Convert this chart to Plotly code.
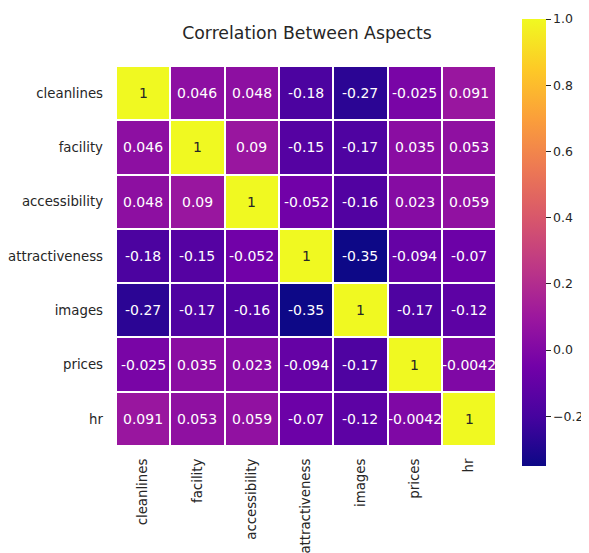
import plotly.graph_objects as go

labels = ["cleanlines", "facility", "accessibility", "attractiveness", "images", "prices", "hr"]
corr = [
    [1, 0.046, 0.048, -0.18, -0.27, -0.025, 0.091],
    [0.046, 1, 0.09, -0.15, -0.17, 0.035, 0.053],
    [0.048, 0.09, 1, -0.052, -0.16, 0.023, 0.059],
    [-0.18, -0.15, -0.052, 1, -0.35, -0.094, -0.07],
    [-0.27, -0.17, -0.16, -0.35, 1, -0.17, -0.12],
    [-0.025, 0.035, 0.023, -0.094, -0.17, 1, -0.0042],
    [0.091, 0.053, 0.059, -0.07, -0.12, -0.0042, 1],
]
cbar_ticks = [-0.2, 0.0, 0.2, 0.4, 0.6, 0.8, 1.0]

# page is offset by 8px body margin
W, H = 581, 545
L, R, T, B = 108, 91, 58, 107
pw, ph = W - L - R, H - T - B
FONT = "DejaVu Sans"
TXT = "#262626"

fig = go.Figure(go.Heatmap(
    z=corr, x=labels, y=labels,
    colorscale="Plasma", zmin=-0.35, zmax=1,
    xgap=2, ygap=2,
    hoverinfo="skip",
    colorbar=dict(
        x=(514 - L) / pw, xanchor="left", xref="paper",
        y=(H - B - 11) / ph, yanchor="top",
        len=(458 - 11) / ph, lenmode="fraction",
        xpad=0, ypad=0,
        thickness=24, outlinewidth=0,
        tickvals=cbar_ticks, ticktext=[f"{v:.1f}".replace("-", "\u2212") for v in cbar_ticks],
        ticks="outside", ticklen=5, tickwidth=1, tickcolor=TXT,
        tickfont=dict(family=FONT, size=12.5, color=TXT),
    ),
))

for i, row in enumerate(corr):
    for j, v in enumerate(row):
        fig.add_annotation(
            x=labels[j], y=labels[i], text=f"{v:.2g}", showarrow=False,
            font=dict(family=FONT, size=14, color=TXT if v > 0.6 else "white"),
        )

fig.update_layout(
    width=W, height=H,
    margin=dict(l=L, r=R, t=T, b=B, autoexpand=False),
    paper_bgcolor="white", plot_bgcolor="white",
    title=dict(text="Correlation Between Aspects", x=299 / W, xanchor="center",
               y=1 - 25 / H, yanchor="middle",
               font=dict(family=FONT, size=17.3, color=TXT)),
    xaxis=dict(tickangle=-90, showgrid=False, zeroline=False, ticks="", automargin=False,
               ticklabelstandoff=9,
               tickfont=dict(family=FONT, size=13.3, color=TXT)),
    yaxis=dict(autorange="reversed", showgrid=False, zeroline=False, ticks="", automargin=False,
               ticklabelstandoff=12,
               tickfont=dict(family=FONT, size=13.3, color=TXT)),
)

fig.write_html("out.html")
